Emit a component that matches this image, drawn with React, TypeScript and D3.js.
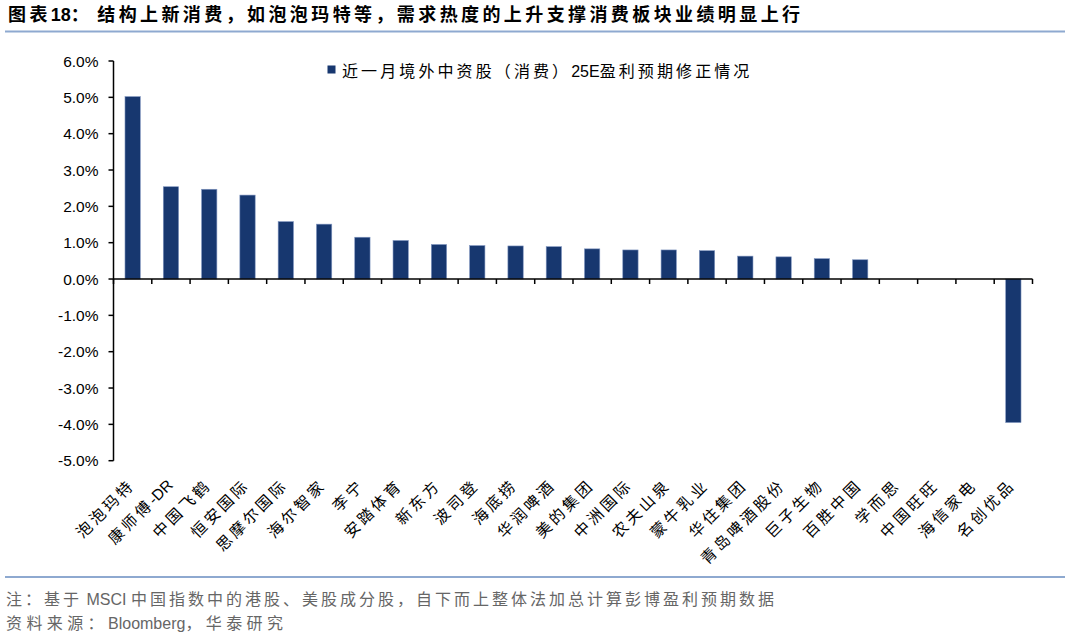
import React from "react";
import * as d3 from "d3";

const categories = [
  "泡泡玛特", "康师傅-DR", "中国飞鹤", "恒安国际", "思摩尔国际", "海尔智家", "李宁", "安踏体育",
  "新东方", "波司登", "海底捞", "华润啤酒", "美的集团", "中洲国际", "农夫山泉", "蒙牛乳业",
  "华住集团", "青岛啤酒股份", "巨子生物", "百胜中国", "学而思", "中国旺旺", "海信家电", "名创优品",
];
const values = [
  5.02, 2.54, 2.47, 2.31, 1.58, 1.51, 1.15, 1.06,
  0.95, 0.92, 0.91, 0.89, 0.83, 0.8, 0.8, 0.78,
  0.63, 0.61, 0.56, 0.53, 0, 0, 0, -3.95,
];
const yTicks = [6, 5, 4, 3, 2, 1, 0, -1, -2, -3, -4, -5];
const title = "图表18： 结构上新消费，如泡泡玛特等，需求热度的上升支撑消费板块业绩明显上行";
const legendLabel = "近一月境外中资股（消费）25E盈利预期修正情况";
const note1 = "注：基于 MSCI 中国指数中的港股、美股成分股，自下而上整体法加总计算彭博盈利预期数据";
const note2 = "资料来源：Bloomberg，华泰研究";

const FONT = "'Liberation Sans', Arial, 'Noto Sans CJK SC', sans-serif";
const BAR = "#17376f";
const RULE = "#8ea9d0";

function Runs({ text, spacing }: { text: string; spacing: number }) {
  const parts = text.match(/[\u3000-\u9fff\uff00-\uffef]+|[^\u3000-\u9fff\uff00-\uffef]+/g) || [];
  return (
    <>
      {parts.map((p, i) => {
        const cjk = /[\u3000-\u9fff\uff00-\uffef]/.test(p);
        return (
          <tspan key={i} letterSpacing={cjk ? spacing : 0}>{p}</tspan>
        );
      })}
    </>
  );
}

export default function App() {
  const W = 1080, H = 642;
  const left = 113.5, right = 1032.5, top = 61, bottom = 460.7;
  const x = d3.scaleBand<string>().domain(categories).range([left, right]).paddingInner(0.6).paddingOuter(0.3);
  const y = d3.scaleLinear().domain([-5, 6]).range([bottom, top]);
  const step = x.step();
  const y0 = y(0);
  const pre = { whiteSpace: "pre" as const };

  return (
    <svg width={W} height={H} style={{ position: "absolute", left: 0, top: 0, background: "#fff" }} fontFamily={FONT}>
      {/* title */}
      <text x={8} y={21} fontSize={18} fontWeight="bold" fill="#000" style={pre}><Runs text={title} spacing={3.4} /></text>
      <line x1={5} x2={1065} y1={31.5} y2={31.5} stroke={RULE} strokeWidth={2} />

      {/* legend */}
      <rect x={327.5} y={65.5} width={8} height={8} fill={BAR} />
      <text x={342} y={76.5} fontSize={16} fill="#000" style={pre}><Runs text={legendLabel} spacing={3.1} /></text>

      {/* bars */}
      {categories.map((c, i) => {
        const v = values[i];
        if (v === 0) return null;
        const yv = y(v);
        return (
          <rect key={c} x={x(c)} y={Math.min(yv, y0)} width={x.bandwidth()} height={Math.abs(yv - y0)}
            fill={BAR} stroke="#8096c0" strokeWidth={0.6} />
        );
      })}

      {/* y axis */}
      <line x1={left} x2={left} y1={top} y2={bottom} stroke="#000" strokeWidth={1.5} />
      {yTicks.map((t) => (
        <g key={t}>
          <line x1={left - 5} x2={left} y1={y(t)} y2={y(t)} stroke="#000" strokeWidth={1.5} />
          <text x={98.5} y={y(t) + 5.5} fontSize={15.5} textAnchor="end" fill="#000">{t.toFixed(1) + "%"}</text>
        </g>
      ))}

      {/* x axis */}
      <line x1={left} x2={right} y1={y0} y2={y0} stroke="#000" strokeWidth={1.5} />
      {d3.range(categories.length + 1).map((i) => (
        <line key={i} x1={left + i * step} x2={left + i * step} y1={y0} y2={y0 + 5} stroke="#000" strokeWidth={1.5} />
      ))}
      {categories.map((c) => {
        const cx = (x(c) as number) + x.bandwidth() / 2 + 3;
        const cy = 486;
        return (
          <text key={c} x={cx} y={cy} fontSize={15.5} textAnchor="end" fill="#000"
            transform={`rotate(-45 ${cx} ${cy})`}><Runs text={c} spacing={3.2} /></text>
        );
      })}

      {/* footer */}
      <line x1={5} x2={1065} y1={577} y2={577} stroke={RULE} strokeWidth={2} />
      <text x={6} y={605} fontSize={16} fill="#666" style={pre}><Runs text={note1} spacing={3.0} /></text>
      <text x={6} y={629} fontSize={16} fill="#666" style={pre}><Runs text={note2} spacing={4.4} /></text>
    </svg>
  );
}
